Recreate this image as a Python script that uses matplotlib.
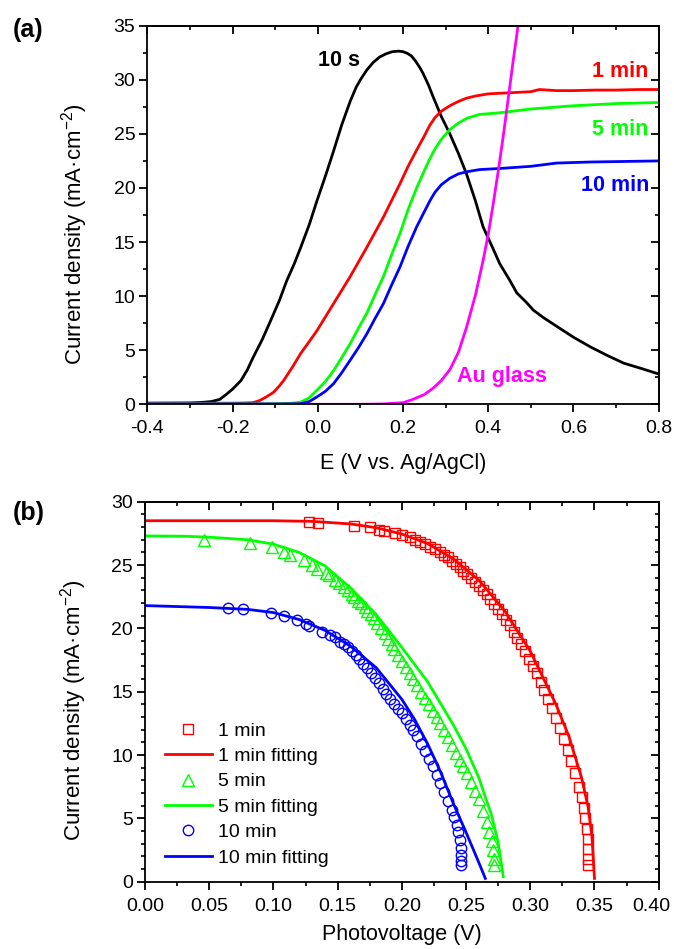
import numpy as np
import matplotlib
matplotlib.use('Agg')
import matplotlib.pyplot as plt
from matplotlib.ticker import MultipleLocator
from matplotlib.transforms import ScaledTranslation

plt.rcParams['font.family'] = ['Liberation Sans', 'DejaVu Sans']
plt.rcParams['mathtext.fontset'] = 'custom'
plt.rcParams['mathtext.rm'] = 'Liberation Sans'
plt.rcParams['mathtext.it'] = 'Liberation Sans:italic'
plt.rcParams['mathtext.bf'] = 'Liberation Sans:bold'

# ---- panel (a): linear sweeps ----
e_10s = [-0.4, -0.3, -0.27, -0.25, -0.23, -0.215, -0.2, -0.18, -0.165, -0.152, -0.13, -0.112,
         -0.09, -0.073, -0.055, -0.04, -0.02, -0.002, 0.018, 0.037, 0.056, 0.076, 0.09, 0.1,
         0.115, 0.13, 0.145, 0.16, 0.175, 0.19, 0.2, 0.21, 0.22, 0.23, 0.24, 0.247, 0.26,
         0.271, 0.29, 0.31, 0.33, 0.349, 0.37, 0.388, 0.41, 0.427, 0.45, 0.467, 0.49, 0.506,
         0.53, 0.561, 0.6, 0.64, 0.68, 0.718, 0.76, 0.8]
j_10s = [0.1, 0.12, 0.18, 0.25, 0.45, 0.9, 1.4, 2.2, 3.2, 4.3, 6.0, 7.6,
         9.6, 11.4, 13.0, 14.5, 16.6, 18.8, 21.1, 23.4, 25.8, 28.0, 29.3, 30.0,
         30.9, 31.6, 32.1, 32.4, 32.6, 32.65, 32.6, 32.45, 32.2, 31.7, 31.1, 30.6, 29.5,
         28.4, 26.6, 25.0, 23.2, 21.3, 18.8, 16.4, 14.5, 13.0, 11.5, 10.3, 9.4, 8.7,
         8.0, 7.2, 6.2, 5.3, 4.5, 3.8, 3.3, 2.8]

e_1min = [-0.4, -0.2, -0.17, -0.152, -0.136, -0.12, -0.104, -0.09, -0.08, -0.06, -0.04, -0.02,
          -0.002, 0.037, 0.076, 0.115, 0.154, 0.193, 0.212, 0.232, 0.25, 0.263, 0.275, 0.29,
          0.31, 0.33, 0.349, 0.37, 0.4, 0.45, 0.5, 0.52, 0.56, 0.6, 0.65, 0.7, 0.75, 0.8]
j_1min = [0.1, 0.1, 0.12, 0.15, 0.35, 0.7, 1.1, 1.7, 2.2, 3.4, 4.7, 5.8,
          6.8, 9.3, 11.8, 14.5, 17.3, 20.4, 22.0, 23.5, 24.8, 25.8, 26.5, 27.1,
          27.6, 28.0, 28.3, 28.5, 28.7, 28.8, 28.9, 29.1, 29.0, 29.0, 29.05, 29.05, 29.1, 29.1]

e_5min = [-0.4, -0.1, -0.06, -0.04, -0.02, -0.002, 0.018, 0.037, 0.056, 0.076, 0.095, 0.115,
          0.134, 0.154, 0.173, 0.193, 0.212, 0.232, 0.25, 0.263, 0.275, 0.29, 0.31, 0.33,
          0.35, 0.38, 0.427, 0.5, 0.6, 0.7, 0.8]
j_5min = [0.05, 0.05, 0.1, 0.2, 0.6, 1.3, 2.1, 3.1, 4.3, 5.6, 7.0, 8.4,
          10.1, 11.8, 13.8, 15.8, 18.0, 20.0, 21.6, 22.7, 23.6, 24.5, 25.4, 26.0,
          26.45, 26.8, 26.95, 27.3, 27.6, 27.8, 27.9]

e_10min = [-0.4, -0.08, -0.04, -0.02, -0.002, 0.018, 0.037, 0.056, 0.076, 0.095, 0.115, 0.134,
           0.154, 0.173, 0.193, 0.212, 0.232, 0.25, 0.263, 0.275, 0.29, 0.31, 0.33, 0.35,
           0.38, 0.427, 0.5, 0.56, 0.64, 0.72, 0.8]
j_10min = [0.03, 0.03, 0.05, 0.25, 0.68, 1.2, 1.9, 2.9, 4.07, 5.2, 6.5, 7.9,
           9.3, 11.0, 12.7, 14.6, 16.4, 17.8, 18.8, 19.6, 20.3, 20.9, 21.3, 21.5,
           21.7, 21.8, 22.0, 22.3, 22.4, 22.45, 22.5]

e_au = [-0.4, 0.1, 0.15, 0.2, 0.22, 0.25, 0.271, 0.29, 0.31, 0.33, 0.349, 0.37,
        0.388, 0.4, 0.412, 0.424, 0.436, 0.447, 0.458, 0.47]
j_au = [0.0, 0.0, 0.03, 0.15, 0.4, 0.9, 1.5, 2.2, 3.2, 4.8, 7.1, 10.1,
        13.3, 15.7, 18.6, 21.7, 25.0, 28.3, 31.6, 35.0]

# ---- panel (b): J-V data and fits ----
v_1min = [0.128, 0.135, 0.163, 0.175, 0.182, 0.186, 0.195, 0.2, 0.206, 0.21, 0.214, 0.218,
          0.222, 0.226, 0.23, 0.233, 0.236, 0.239, 0.242, 0.245, 0.248, 0.251, 0.254, 0.257,
          0.26, 0.263, 0.266, 0.269, 0.272, 0.275, 0.278, 0.281, 0.284, 0.287, 0.29, 0.293,
          0.296, 0.299, 0.302, 0.305, 0.308, 0.311, 0.314, 0.317, 0.32, 0.323, 0.326, 0.329,
          0.332, 0.335, 0.338, 0.34, 0.342, 0.343, 0.344, 0.345, 0.345, 0.345, 0.345]
jv_1min = [28.4, 28.3, 28.1, 28.0, 27.8, 27.7, 27.5, 27.35, 27.2, 27.0, 26.85, 26.65,
           26.45, 26.25, 26.05, 25.8, 25.6, 25.35, 25.1, 24.85, 24.55, 24.3, 24.0, 23.7,
           23.35, 23.0, 22.7, 22.35, 21.95, 21.55, 21.1, 20.7, 20.25, 19.75, 19.25, 18.75,
           18.2, 17.6, 17.05, 16.45, 15.8, 15.15, 14.45, 13.7, 12.9, 12.1, 11.3, 10.4,
           9.5, 8.55, 7.5, 6.7, 5.8, 5.0, 4.2, 3.4, 2.6, 1.8, 1.3]

v_5min = [0.0456, 0.082, 0.099, 0.108, 0.113, 0.124, 0.13, 0.134, 0.141, 0.143, 0.148, 0.151,
          0.155, 0.158, 0.161, 0.163, 0.166, 0.168, 0.171, 0.173, 0.176, 0.178, 0.181, 0.184,
          0.187, 0.189, 0.192, 0.194, 0.197, 0.2, 0.203, 0.206, 0.209, 0.212, 0.215, 0.218,
          0.221, 0.224, 0.227, 0.23, 0.233, 0.236, 0.239, 0.242, 0.245, 0.248, 0.251, 0.254,
          0.257, 0.26, 0.263, 0.266, 0.268, 0.27, 0.271, 0.272, 0.272]
jv_5min = [27.0, 26.75, 26.4, 26.05, 25.8, 25.4, 25.0, 24.7, 24.4, 24.2, 23.8, 23.55,
           23.25, 23.0, 22.7, 22.5, 22.2, 22.0, 21.7, 21.4, 21.1, 20.8, 20.4, 20.0,
           19.6, 19.2, 18.8, 18.4, 17.9, 17.4, 16.95, 16.5, 16.0, 15.5, 15.0, 14.5,
           14.0, 13.5, 13.0, 12.5, 12.0, 11.4, 10.8, 10.2, 9.6, 9.1, 8.6, 7.9,
           7.2, 6.5, 5.6, 4.7, 3.9, 3.2, 2.5, 1.8, 1.3]

v_10min = [0.0643, 0.0763, 0.098, 0.108, 0.118, 0.125, 0.128, 0.138, 0.144, 0.148, 0.152, 0.155,
           0.158, 0.161, 0.164, 0.167, 0.17, 0.173, 0.176, 0.179, 0.182, 0.185, 0.188, 0.191,
           0.194, 0.197, 0.2, 0.203, 0.206, 0.209, 0.212, 0.215, 0.218, 0.221, 0.224, 0.227,
           0.23, 0.233, 0.236, 0.239, 0.241, 0.243, 0.244, 0.245, 0.246, 0.246, 0.246, 0.246]
jv_10min = [21.6, 21.5, 21.2, 20.95, 20.7, 20.35, 20.15, 19.75, 19.5, 19.3, 18.95, 18.75,
            18.5, 18.2, 17.9, 17.6, 17.2, 16.85, 16.45, 16.05, 15.65, 15.25, 14.85, 14.45,
            14.0, 13.6, 13.3, 12.85, 12.4, 11.95, 11.5, 10.9, 10.3, 9.7, 9.1, 8.45,
            7.8, 7.1, 6.4, 5.7, 5.1, 4.5, 3.9, 3.3, 2.7, 2.1, 1.6, 1.3]

vf_1min = [0.0, 0.1, 0.13, 0.16, 0.18, 0.2, 0.22, 0.24, 0.26, 0.28, 0.3, 0.32, 0.33, 0.34, 0.345, 0.348, 0.35]
jf_1min = [28.5, 28.5, 28.45, 28.25, 27.95, 27.45, 26.7, 25.5, 23.8, 21.4, 18.2, 14.0, 11.5, 8.2, 5.9, 3.6, 0.26]

vf_5min = [0.0, 0.03, 0.05, 0.08, 0.1, 0.12, 0.14, 0.16, 0.18, 0.2, 0.22, 0.24, 0.25, 0.26, 0.27, 0.275, 0.279]
jf_5min = [27.3, 27.28, 27.2, 27.0, 26.65, 26.0, 24.95, 23.2, 21.1, 18.5, 15.8, 12.4, 10.5, 8.2, 5.2, 3.1, 0.4]

vf_10min = [0.0, 0.05, 0.08, 0.1, 0.12, 0.14, 0.16, 0.18, 0.2, 0.21, 0.22, 0.23, 0.24, 0.25, 0.26, 0.265]
jf_10min = [21.8, 21.65, 21.5, 21.25, 20.7, 19.85, 18.6, 16.9, 14.4, 12.8, 10.9, 8.7, 6.2, 3.9, 1.5, 0.26]

RED, GREEN, BLUE, MAG = '#ff0000', '#00ff00', '#0000ff', '#ff00ff'
TICK_FS, XLAB_FS, YLAB_FS, NOTE_FS = 14, 15.5, 16, 15.5


def style_axes(ax, xmaj, xmin, ymaj, ymin):
    for s in ax.spines.values():
        s.set_linewidth(1.3)
    ax.xaxis.set_major_locator(MultipleLocator(xmaj))
    ax.xaxis.set_minor_locator(MultipleLocator(xmin))
    ax.yaxis.set_major_locator(MultipleLocator(ymaj))
    ax.yaxis.set_minor_locator(MultipleLocator(ymin))
    ax.tick_params(which='major', direction='out', length=5.5, width=1.3,
                   labelsize=TICK_FS)
    ax.tick_params(axis='x', which='major', pad=6)
    ax.tick_params(axis='y', which='major', pad=3)
    ax.tick_params(which='minor', direction='out', length=3, width=1.2)
    # top / right ticks point inwards
    top = ax.secondary_xaxis('top')
    top.xaxis.set_major_locator(MultipleLocator(xmaj))
    top.xaxis.set_minor_locator(MultipleLocator(xmin))
    top.tick_params(which='major', direction='in', length=5.5, width=1.3, labeltop=False)
    top.tick_params(which='minor', direction='in', length=3, width=1.2)
    top.spines['top'].set_linewidth(1.3)
    right = ax.secondary_yaxis('right')
    right.yaxis.set_major_locator(MultipleLocator(ymaj))
    right.yaxis.set_minor_locator(MultipleLocator(ymin))
    right.tick_params(which='major', direction='in', length=5.5, width=1.3, labelright=False)
    right.tick_params(which='minor', direction='in', length=3, width=1.2)
    right.spines['right'].set_linewidth(1.3)


fig = plt.figure(figsize=(6.74, 9.49), dpi=100)

# ---------------- (a) ----------------
ax1 = fig.add_axes([0.2185, 0.5740, 0.7588, 0.3989])
lw = 2.0
ax1.plot(e_10s, j_10s, color='black', lw=lw)
ax1.plot(e_1min, j_1min, color=RED, lw=lw)
ax1.plot(e_5min, j_5min, color=GREEN, lw=lw)
ax1.plot(e_10min, j_10min, color=BLUE, lw=lw)
ax1.plot(e_au, j_au, color=MAG, lw=lw)
ax1.set_xlim(-0.4, 0.8)
ax1.set_ylim(0, 35)
style_axes(ax1, 0.2, 0.1, 5, 2.5)
ax1.xaxis.set_major_formatter(plt.FuncFormatter(lambda v, p: f'{v:.1f}'))
ax1.set_xlabel('E (V vs. Ag/AgCl)', fontsize=XLAB_FS, labelpad=11)
ax1.set_ylabel('Current density (mA·cm$^{-2}$)', fontsize=YLAB_FS, labelpad=7)
ax1.yaxis.set_label_coords(-0.112, 0.45)

ax1.text(0.0, 31.8, '10 s', color='black', fontsize=NOTE_FS, fontweight='bold', ha='left', va='center')
ax1.text(0.775, 30.8, '1 min', color=RED, fontsize=NOTE_FS, fontweight='bold', ha='right', va='center')
ax1.text(0.775, 25.4, '5 min', color=GREEN, fontsize=NOTE_FS, fontweight='bold', ha='right', va='center')
ax1.text(0.779, 20.2, '10 min', color=BLUE, fontsize=NOTE_FS, fontweight='bold', ha='right', va='center')
ax1.text(0.326, 2.6, 'Au glass', color=MAG, fontsize=NOTE_FS, fontweight='bold', ha='left', va='center')

# ---------------- (b) ----------------
ax2 = fig.add_axes([0.2151, 0.0709, 0.7622, 0.4004])
ms, mew = 7.5, 1.0
d1, = ax2.plot(v_1min, jv_1min, ls='none', marker='s', ms=ms, mfc='none', mec=RED, mew=mew, label='1 min')
d5, = ax2.plot(v_5min, jv_5min, ls='none', marker='^', ms=ms + 0.5, mfc='none', mec=GREEN, mew=mew, label='5 min')
d10, = ax2.plot(v_10min, jv_10min, ls='none', marker='o', ms=ms, mfc='none', mec=BLUE, mew=mew, label='10 min')
f1, = ax2.plot(vf_1min, jf_1min, color=RED, lw=2.0, label='1 min fitting')
f5, = ax2.plot(vf_5min, jf_5min, color=GREEN, lw=2.0, label='5 min fitting')
f10, = ax2.plot(vf_10min, jf_10min, color=BLUE, lw=2.0, label='10 min fitting')
ax2.set_xlim(0, 0.40)
ax2.set_ylim(0, 30)
style_axes(ax2, 0.05, 0.025, 5, 1)
ax2.xaxis.set_major_formatter(plt.FuncFormatter(lambda v, p: f'{v:.2f}'))
ax2.set_xlabel('Photovoltage (V)', fontsize=XLAB_FS, labelpad=7)
ax2.set_ylabel('Current density (mA·cm$^{-2}$)', fontsize=YLAB_FS, labelpad=7)
ax2.yaxis.set_label_coords(-0.108, 0.45)

ax2.legend(handles=[d1, f1, d5, f5, d10, f10], loc='lower left',
           bbox_to_anchor=(0.039, 0.04), frameon=False, fontsize=14,
           handlelength=2.4, handletextpad=0.3, labelspacing=0.4,
           borderpad=0, borderaxespad=0, numpoints=1)

fig.text(13 / 674, 1 - 30 / 949, '(a)', fontsize=18, fontweight='bold', ha='left', va='center')
fig.text(13 / 674, 1 - 513 / 949, '(b)', fontsize=18, fontweight='bold', ha='left', va='center')

# keep the last x tick label of (b) inside the canvas
fig.canvas.draw()
for lab in ax2.get_xticklabels():
    if lab.get_text() == '0.40':
        lab.set_transform(lab.get_transform() + ScaledTranslation(-5 / 72, 0, fig.dpi_scale_trans))

fig.savefig('out.png', dpi=100)
